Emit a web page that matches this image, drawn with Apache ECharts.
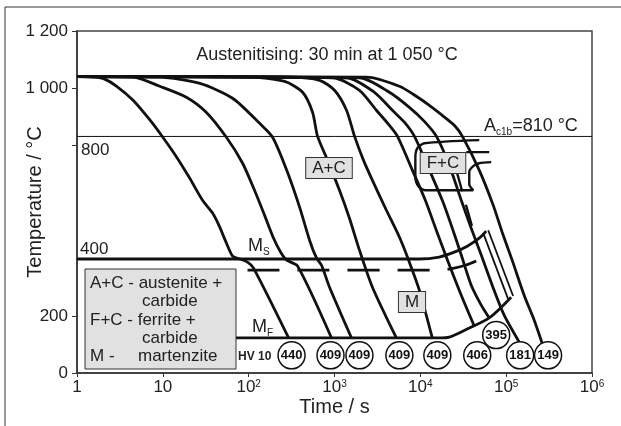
<!DOCTYPE html>
<html>
<head>
<meta charset="utf-8">
<script src="https://cdn.jsdelivr.net/npm/echarts@6/dist/echarts.min.js"></script>
<style>
  html, body { margin: 0; padding: 0; background: #fff; }
  #chart { width: 621px; height: 426px; }
</style>
</head>
<body>
<div id="chart"></div>
<script>
// cooling curves, [time in s, temperature in °C], fastest first
const curve440 = [[1,1040],[1.6,1038],[2.1,1031],[2.9,1006],[4.5,957],[7.1,887],[10,827],[14.5,757],[20.6,683],[29,606],[38,561],[46,512],[55,456],[65,410],[79,400],[97,389],[114,368],[292,123]];
const curve409a = [[1,1040],[4.5,1038],[9.2,1006],[19,967],[32,915],[55,827],[85,736],[117,641],[153,554],[195,473],[236,424],[277,396],[372,375],[923,123]];
const curve409b = [[1,1040],[9.2,1038],[27,1016],[65,964],[134,876],[190,827],[277,712],[392,582],[512,466],[618,403],[706,378],[875,301],[1578,123]];
const curve409c = [[1,1040],[103,1038],[262,1023],[425,985],[555,915],[634,831],[829,747],[1143,641],[1494,543],[1953,431],[2766,301],[5260,123]];
const curve409d = [[1,1040],[300,1038],[670,1027],[1000,992],[1380,922],[1710,831],[2173,747],[2766,676],[4024,571],[5700,477],[7448,389],[9730,291],[13790,123]];
const curve406 = [[1,1040],[948,1036],[1953,992],[3077,922],[4362,869],[5405,831],[8070,712],[11430,606],[15350,501],[21170,389],[29980,273],[42460,165]];
const curve395 = [[1,1040],[1380,1036],[2917,985],[4721,922],[6516,880],[8510,831],[12050,729],[18020,606],[22910,519],[29980,414],[39170,308],[51220,238],[63440,193]];
const curve181 = [[1,1040],[1953,1036],[4362,985],[7448,932],[11130,883],[15350,831],[21740,729],[29980,606],[39170,508],[51220,414],[68750,308],[94820,203],[141600,109]];
const curve149 = [[1,1040],[2355,1038],[5700,1006],[8980,971],[12730,939],[18020,904],[24850,869],[30780,831],[48530,712],[70580,589],[89810,494],[117400,396],[161900,273],[211700,186],[262200,105]];

// transformation lines
const msLine = [[1,400],[9730,400],[16630,407],[24850,424],[35220,445],[48530,473],[58500,498]];
const msDashed = [[97,361],[16630,361],[24850,368],[34260,379],[44770,393]];
const mfLine = [[71,123],[16630,123],[21740,126],[37150,158],[63440,193],[114300,266]];
const mEdgeA = [[54050,491],[105500,259]];
const mEdgeB = [[61780,501],[120500,270]];
const fcOutline = [[48530,817],[11130,806],[9230,789],[8750,754],[8750,683],[9480,655],[11430,641],[41310,641],[37150,662],[37150,705],[41310,726],[48530,736],[66960,740]];
const fcStub = [[34260,775],[63440,775]];
const fcDashed = [[26220,712],[46000,449]];
const acLineTemp = 830;

// hardness HV 10 circles
const hardnessText = ['440','409','409','409','409','406','395','181','149'];
const hardnessTime = [316, 898, 1953, 5700, 15780, 46000, 76500, 145500, 307700];
const hardnessTemp = [62, 62, 62, 62, 62, 62, 133, 62, 62];

// axis labels
const yLabelValues = [0, 200, 1000, 1200];
const yLabelText = ['0', '200', '1 000', '1 200'];
const yTickValues = [0, 200, 800, 1000, 1200];

const font = '"Liberation Sans", Arial, sans-serif';
const ink = '#111';

const curves = [curve440, curve409a, curve409b, curve409c, curve409d, curve406, curve395, curve181, curve149];

function lineSeries(data, width, extra) {
  return Object.assign({
    type: 'line', data: data, symbol: 'none', silent: true,
    lineStyle: { color: ink, width: width }, z: 3
  }, extra || {});
}

const series = [];
curves.forEach(c => series.push(lineSeries(c, 2.8, { smooth: 0.25 })));
series.push(lineSeries([[1, acLineTemp], [1e6, acLineTemp]], 1));
series.push(lineSeries(msLine, 2.8, { smooth: 0.3 }));
series.push(lineSeries(msDashed, 2.8, { smooth: 0.3, lineStyle: { color: ink, width: 2.8, type: [32, 18] } }));
series.push(lineSeries(mfLine, 2.8, { smooth: 0.3 }));
series.push(lineSeries(mEdgeA, 1.8));
series.push(lineSeries(mEdgeB, 1.8));
series.push(lineSeries(fcOutline, 2.4, { smooth: 0.25 }));
series.push(lineSeries(fcStub, 2.4));
series.push(lineSeries(fcDashed, 2.4, { lineStyle: { color: ink, width: 2.4, type: [22, 14] } }));
series.push({
  type: 'scatter', silent: true, z: 6,
  data: hardnessText.map((h, i) => [hardnessTime[i], hardnessTemp[i], h]),
  symbol: 'circle', symbolSize: 27,
  itemStyle: { color: '#fff', borderColor: ink, borderWidth: 1.5, opacity: 1 },
  label: {
    show: true, position: 'inside', formatter: p => p.value[2],
    fontFamily: font, fontWeight: 'bold', fontSize: 13, color: ink
  }
});

const boxLabel = (text, x, y) => ({
  type: 'text', x: x, y: y, z: 100,
  style: {
    text: text, font: '17px ' + font, fill: '#222',
    align: 'center', verticalAlign: 'middle',
    backgroundColor: '#e1e1e1', borderColor: '#333', borderWidth: 1,
    padding: [2, 6, 1, 6]
  }
});

const plainText = (text, x, y, size, extra) => ({
  type: 'text', x: x, y: y, z: 100,
  style: Object.assign({
    text: text, font: size + 'px ' + font, fill: '#222',
    align: 'left', verticalAlign: 'middle'
  }, extra || {})
});

const subRich = { sub: { fontSize: 10, fontFamily: font, verticalAlign: 'bottom', lineHeight: 22, fill: '#222' } };

const option = {
  animation: false,
  backgroundColor: '#fff',
  grid: {
    left: 77, right: 29, top: 31, bottom: 53,
    containLabel: false, outerBoundsMode: 'none',
    show: true, borderColor: '#444', borderWidth: 1.5
  },
  xAxis: {
    type: 'log', logBase: 10, min: 1, max: 1e6, splitNumber: 6,
    name: 'Time / s', nameLocation: 'middle', nameGap: 24, nameMoveOverlap: false,
    nameTextStyle: { fontFamily: font, fontSize: 20, color: '#222' },
    axisLine: { show: true, onZero: false, lineStyle: { color: '#333', width: 1.5 } },
    axisTick: { show: true, length: 4, lineStyle: { color: '#333' } },
    splitLine: { show: false },
    axisLabel: {
      margin: 6, color: '#222', fontFamily: font, fontSize: 17,
      formatter: v => {
        if (v === 1) return '1';
        if (v === 10) return '10';
        return '10{sup|' + Math.round(Math.log10(v)) + '}';
      },
      rich: { sup: { fontSize: 10, fontFamily: font, verticalAlign: 'top', lineHeight: 10, color: '#222' } }
    }
  },
  yAxis: {
    type: 'value', min: 0, max: 1200, interval: 200,
    name: 'Temperature / °C', nameLocation: 'middle', nameGap: 32, nameRotate: 90, nameMoveOverlap: false,
    nameTextStyle: { fontFamily: font, fontSize: 20, color: '#222' },
    axisLine: { show: true, lineStyle: { color: '#333', width: 1.5 } },
    axisTick: { show: true, length: 5, customValues: yTickValues, lineStyle: { color: '#333' } },
    splitLine: { show: false },
    axisLabel: {
      margin: 9, color: '#222', fontFamily: font, fontSize: 17,
      customValues: yLabelValues,
      formatter: v => yLabelText[yLabelValues.indexOf(v)]
    }
  },
  series: series,
  graphic: [
    { type: 'polyline', z: 100, shape: { points: [[5, 426], [5, 7], [621, 7]] }, style: { stroke: '#333', lineWidth: 1, fill: null } },
    plainText('Austenitising: 30 min at 1 050 °C', 327, 55, 18, { align: 'center' }),
    plainText('800', 81, 150, 17),
    plainText('400', 80, 249, 17),
    plainText('A{sub|c1b}=810 °C', 484, 126, 18, { rich: subRich }),
    plainText('M{sub|S}', 248, 246, 18, { rich: subRich }),
    plainText('M{sub|F}', 252, 327, 18, { rich: subRich }),
    boxLabel('A+C', 329, 168),
    boxLabel('F+C', 443, 163),
    boxLabel('M', 412, 302),
    { type: 'rect', z: 100, shape: { x: 85, y: 269, width: 151, height: 100 }, style: { fill: '#e1e1e1', stroke: '#333', lineWidth: 1 } },
    plainText('A+C - austenite +', 90, 283, 17),
    plainText('carbide', 142, 301, 17),
    plainText('F+C - ferrite +', 90, 320, 17),
    plainText('carbide', 142, 338, 17),
    plainText('M -', 90, 356, 17),
    plainText('martenzite', 138, 356, 17),
    plainText('HV 10', 238, 357, 12, { font: 'bold 12px ' + font })
  ]
};

const chart = echarts.init(document.getElementById('chart'));
chart.setOption(option);
</script>
</body>
</html>
